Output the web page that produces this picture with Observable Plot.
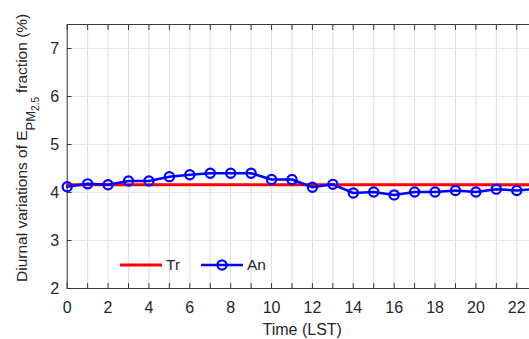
<!DOCTYPE html>
<html>
<head>
<meta charset="utf-8">
<script src="https://cdn.jsdelivr.net/npm/d3@7"></script>
<script src="https://cdn.jsdelivr.net/npm/@observablehq/plot@0.6"></script>
<style>
  html, body { margin: 0; padding: 0; background: #fff; overflow: hidden; }
  #chart { width: 529px; height: 339px; overflow: hidden; }
  #chart svg { max-width: none !important; font-family: "Liberation Sans", Arial, sans-serif; }
</style>
</head>
<body>
<div id="chart"></div>
<script>
const hours = [0,1,2,3,4,5,6,7,8,9,10,11,12,13,14,15,16,17,18,19,20,21,22,23];
const anValues = [4.12,4.18,4.16,4.24,4.24,4.33,4.37,4.40,4.40,4.40,4.27,4.27,4.11,4.17,3.99,4.01,3.95,4.01,4.01,4.04,4.01,4.07,4.04,4.08];
const trValue = 4.16;
const xLabelTicks = [0,2,4,6,8,10,12,14,16,18,20,22];
const yTicks = [2,3,4,5,6,7];
const seriesNames = ["Tr", "An"];

const an = hours.map((h, i) => ({hour: h, value: anValues[i]}));
const tr = [{hour: hours[0], value: trValue}, {hour: hours[hours.length - 1], value: trValue}];

const axisColor = "#3a3a3a";
const textColor = "#262626";

const plot = Plot.plot({
  width: 545,
  height: 339,
  marginLeft: 66.7,
  marginRight: 8.3,
  marginTop: 24,
  marginBottom: 51,
  style: {fontFamily: '"Liberation Sans", Arial, sans-serif', fontSize: "16px", color: textColor, background: "#fff", maxWidth: "none"},
  x: {domain: [0, 23]},
  y: {domain: [2, 7.5]},
  marks: [
    Plot.gridX(hours, {stroke: "#dedede", strokeOpacity: 1, strokeWidth: 1}),
    Plot.gridY(yTicks, {stroke: "#e6e6e6", strokeOpacity: 1, strokeWidth: 1}),
    Plot.frame({stroke: axisColor, strokeWidth: 1}),
    Plot.axisX({anchor: "bottom", ticks: hours, tickSize: -5, tickFormat: () => "", stroke: axisColor, label: null}),
    Plot.axisX({anchor: "top", ticks: hours, tickSize: -5, tickFormat: () => "", stroke: axisColor, label: null}),
    Plot.axisX({anchor: "bottom", ticks: xLabelTicks, tickSize: 0, tickPadding: 13, tickFormat: d => String(d), fill: textColor, fontSize: 16,
      label: "Time (LST)", labelAnchor: "center", labelArrow: "none", labelOffset: 46}),
    Plot.axisY({anchor: "left", ticks: yTicks, tickSize: -5, tickFormat: () => "", stroke: axisColor, label: null}),
    Plot.axisY({anchor: "left", ticks: yTicks, tickSize: 0, tickPadding: 8, tickFormat: d => String(d), fill: textColor, fontSize: 16, label: null}),
    Plot.line(tr, {x: "hour", y: "value", stroke: "#ff0000", strokeWidth: 3}),
    Plot.line(an, {x: "hour", y: "value", stroke: "#0000ff", strokeWidth: 2.5}),
    Plot.dot(an, {x: "hour", y: "value", stroke: "#0000ff", strokeWidth: 2.2, r: 4.6, fill: "none"})
  ]
});

document.getElementById("chart").appendChild(plot);

const svg = d3.select(plot);

// Y axis label with subscripts
const yl = svg.append("text")
  .attr("transform", "translate(27,282) rotate(-90)")
  .attr("text-anchor", "start")
  .attr("fill", textColor)
  .attr("font-size", 15.5);
yl.append("tspan").text("Diurnal variations of E");
yl.append("tspan").attr("font-size", 13).attr("dy", 8).text("PM");
yl.append("tspan").attr("font-size", 10).attr("dy", 4).text("2.5");
yl.append("tspan").attr("dy", -12).attr("dx", 4).text("fraction (%)");

// Legend
const lg = svg.append("g").attr("font-size", 15.5).attr("fill", textColor).attr("text-anchor", "start");
lg.append("line").attr("x1", 120).attr("x2", 162).attr("y1", 265).attr("y2", 265)
  .attr("stroke", "#ff0000").attr("stroke-width", 3);
lg.append("text").attr("x", 166).attr("y", 265).attr("dy", "0.35em").attr("text-anchor", "start").text(seriesNames[0]);
lg.append("line").attr("x1", 201).attr("x2", 243).attr("y1", 265).attr("y2", 265)
  .attr("stroke", "#0000ff").attr("stroke-width", 2.5);
lg.append("circle").attr("cx", 222).attr("cy", 265).attr("r", 4.6)
  .attr("fill", "none").attr("stroke", "#0000ff").attr("stroke-width", 2.2);
lg.append("text").attr("x", 247).attr("y", 265).attr("dy", "0.35em").attr("text-anchor", "start").text(seriesNames[1]);
</script>
</body>
</html>
